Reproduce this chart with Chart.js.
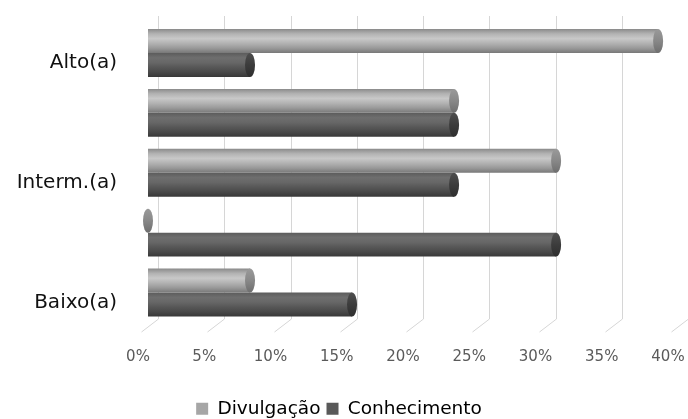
<!DOCTYPE html>
<html>
<head>
<meta charset="utf-8">
<script src="https://cdn.jsdelivr.net/npm/chart.js@4/dist/chart.umd.min.js"></script>
<style>
  html, body { margin: 0; padding: 0; background: #ffffff; }
  #wrap { width: 688px; height: 419px; position: relative; }
</style>
</head>
<body>
<div id="wrap"><canvas id="chart"></canvas></div>
<script>
// Categories (only every other row carries a label)
const categories = ['Alto(a)', '', 'Interm.(a)', '', 'Baixo(a)'];
// Series values, in percent
const divulgacao = [38.5, 23.1, 30.8, 0, 7.7];
const conhecimento = [7.7, 23.1, 23.1, 30.8, 15.4];
// Value axis ticks
const xTickValues = [0, 5, 10, 15, 20, 25, 30, 35, 40];

const seriesNames = ['Divulgação', 'Conhecimento'];
const legendColors = ['#a6a6a6', '#595959'];

// Cylinder shading stops for each series (top -> bottom)
const shades = [
  ['#8a8a8a', '#b2b2b2', '#c8c8c8', '#b2b2b2', '#999999', '#787878'],
  ['#5c5c5c', '#6e6e6e', '#676767', '#575757', '#494949', '#383838']
];
const capColors = ['#888888', '#3c3c3c'];

const CAT_PCT = 0.8;
const FONT = "'DejaVu Sans', sans-serif";

function barBand(chart, dsIndex, index) {
  const y = chart.scales.y;
  if (!y || !chart.chartArea) return null;
  const center = y.getPixelForValue(index);
  const catH = (y.bottom - y.top) / categories.length;
  const thick = catH * CAT_PCT / 2;
  const top = dsIndex === 0 ? center - thick : center;
  return [top, top + thick];
}

function cylinderFill(ctx) {
  const chart = ctx.chart;
  const ds = ctx.datasetIndex;
  if (ctx.type !== 'data') return legendColors[ds];
  const band = barBand(chart, ds, ctx.dataIndex);
  if (!band) return legendColors[ds];
  const g = chart.ctx.createLinearGradient(0, band[0], 0, band[1]);
  const stops = shades[ds];
  stops.forEach((c, i) => g.addColorStop(i / (stops.length - 1), c));
  return g;
}

// Back wall gridlines and floor diagonals of the 3D box
const boxGrid = {
  id: 'boxGrid',
  beforeDatasetsDraw(chart) {
    const { ctx, scales } = chart;
    const x = scales.x;
    const top = 16, backFloor = 319, frontFloor = 332;
    ctx.save();
    ctx.strokeStyle = '#d6d6d6';
    ctx.lineWidth = 1;
    xTickValues.forEach(v => {
      const px = Math.round(x.getPixelForValue(v)) + 0.5;
      ctx.beginPath();
      ctx.moveTo(px + 10, top);
      ctx.lineTo(px + 10, backFloor);
      ctx.lineTo(px - 7, frontFloor);
      ctx.stroke();
    });
    ctx.restore();
  }
};

// Elliptical end caps that turn the bars into cylinders
const cylinderCaps = {
  id: 'cylinderCaps',
  afterDatasetsDraw(chart) {
    const { ctx } = chart;
    chart.data.datasets.forEach((d, ds) => {
      const meta = chart.getDatasetMeta(ds);
      meta.data.forEach(el => {
        const h = el.height;
        const g = ctx.createLinearGradient(0, el.y - h / 2, 0, el.y + h / 2);
        g.addColorStop(0, ds === 0 ? '#9a9a9a' : '#4e4e4e');
        g.addColorStop(0.5, capColors[ds]);
        g.addColorStop(1, ds === 0 ? '#6e6e6e' : '#2e2e2e');
        ctx.save();
        ctx.fillStyle = g;
        ctx.beginPath();
        ctx.ellipse(el.x, el.y, 5, h / 2, 0, 0, Math.PI * 2);
        ctx.fill();
        ctx.restore();
      });
    });
  }
};

new Chart(document.getElementById('chart'), {
  type: 'bar',
  data: {
    labels: categories,
    datasets: [
      { label: seriesNames[0], data: divulgacao, backgroundColor: cylinderFill,
        categoryPercentage: CAT_PCT, barPercentage: 1.0, borderWidth: 0 },
      { label: seriesNames[1], data: conhecimento, backgroundColor: cylinderFill,
        categoryPercentage: CAT_PCT, barPercentage: 1.0, borderWidth: 0 }
    ]
  },
  options: {
    indexAxis: 'y',
    responsive: true,
    maintainAspectRatio: false,
    animation: false,
    layout: { padding: { top: 23, left: 0, right: 10, bottom: -9 } },
    scales: {
      x: {
        min: 0, max: 40,
        grid: { display: false, drawTicks: false },
        border: { display: false },
        afterBuildTicks(scale) { scale.ticks = xTickValues.map(v => ({ value: v })); },
        afterFit(scale) {
          scale.height = 71;
          scale.paddingLeft = 0;
          scale.paddingRight = 0;
        },
        ticks: {
          callback: v => v + '%',
          padding: 26,
          labelOffset: -10,
          maxRotation: 0,
          autoSkip: false,
          color: '#5a5a5a',
          font: { family: FONT, size: 15 }
        }
      },
      y: {
        grid: { display: false, drawTicks: false },
        border: { display: false },
        afterFit(scale) {
          scale.width = 148;
          scale.paddingTop = 0;
          scale.paddingBottom = 0;
        },
        ticks: {
          padding: 31,
          labelOffset: 10,
          autoSkip: false,
          color: '#111111',
          font: { family: FONT, size: 20 }
        }
      }
    },
    plugins: {
      tooltip: { enabled: false },
      legend: {
        position: 'bottom',
        labels: {
          boxWidth: 12,
          boxHeight: 12,
          padding: 6,
          color: '#111111',
          font: { family: FONT, size: 18.5 },
          generateLabels: chart => chart.data.datasets.map((d, i) => ({
            text: d.label,
            fillStyle: legendColors[i],
            strokeStyle: legendColors[i],
            lineWidth: 0,
            hidden: false,
            datasetIndex: i
          }))
        }
      }
    }
  },
  plugins: [boxGrid, cylinderCaps]
});
</script>
</body>
</html>
